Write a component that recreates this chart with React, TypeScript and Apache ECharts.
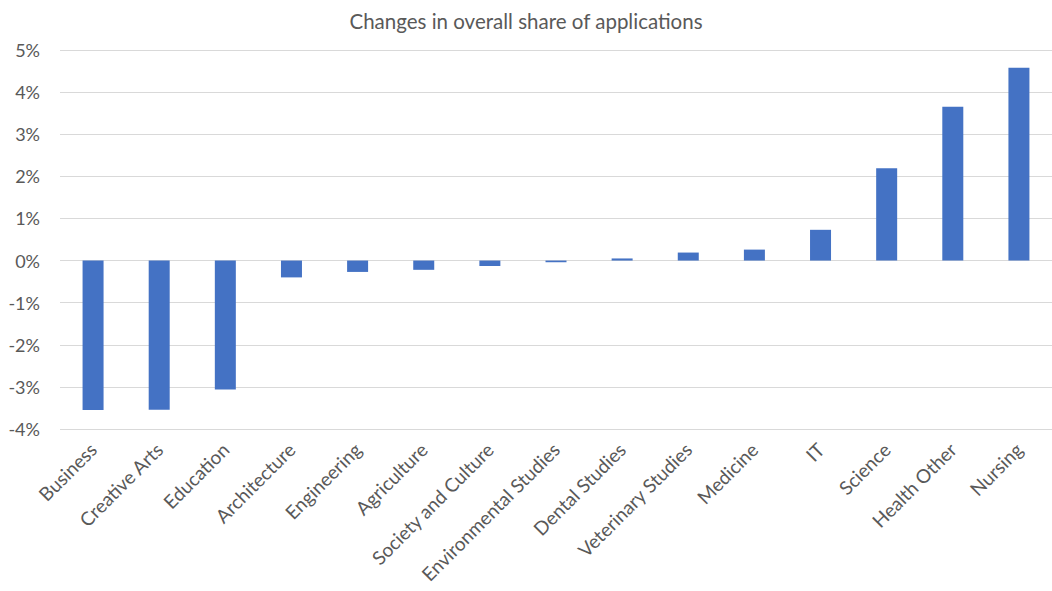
import React, { useEffect, useRef } from "react";
import * as echarts from "echarts";

const categories = [
  "Business",
  "Creative Arts",
  "Education",
  "Architecture",
  "Engineering",
  "Agriculture",
  "Society and Culture",
  "Environmental Studies",
  "Dental Studies",
  "Veterinary Studies",
  "Medicine",
  "IT",
  "Science",
  "Health Other",
  "Nursing",
];

const changes = [
  -3.55, -3.54, -3.06, -0.4, -0.27, -0.22, -0.13, -0.04, 0.05, 0.19, 0.26, 0.73, 2.19, 3.65, 4.58,
];

const title = "Changes in overall share of applications";

export default function App() {
  const ref = useRef<HTMLDivElement>(null);
  useEffect(() => {
    if (!ref.current) return;
    const chart = echarts.init(ref.current, undefined, { renderer: "svg" });
    const font = "Lato, 'Open Sans', sans-serif";
    chart.setOption({
      animation: false,
      backgroundColor: "#ffffff",
      title: {
        text: title,
        left: "center",
        top: 5,
        textStyle: { fontFamily: font, fontSize: 20.5, fontWeight: "normal", color: "#595959" },
      },
      grid: { left: 60, right: -10, top: 50, bottom: 162, containLabel: false },
      xAxis: {
        type: "category",
        data: categories,
        axisLine: { show: false },
        axisTick: { show: false },
        axisLabel: {
          rotate: 45,
          interval: 0,
          margin: 17,
          fontFamily: font,
          fontSize: 19,
          color: "#595959",
        },
        splitLine: { show: false },
      },
      yAxis: {
        type: "value",
        min: -4,
        max: 5,
        interval: 1,
        axisLine: { show: false },
        axisTick: { show: false },
        axisLabel: {
          formatter: (v: number) => `${v}%`,
          margin: 20,
          fontFamily: font,
          fontSize: 18,
          color: "#595959",
        },
        splitLine: { lineStyle: { color: "#d9d9d9", width: 1 } },
      },
      series: [
        {
          type: "bar",
          data: changes,
          barWidth: 21,
          itemStyle: { color: "#4472C4" },
        },
      ],
    });
    return () => chart.dispose();
  }, []);
  return (
    <div
      ref={ref}
      style={{ position: "absolute", left: 0, top: 0, width: 1052, height: 591 }}
    />
  );
}
